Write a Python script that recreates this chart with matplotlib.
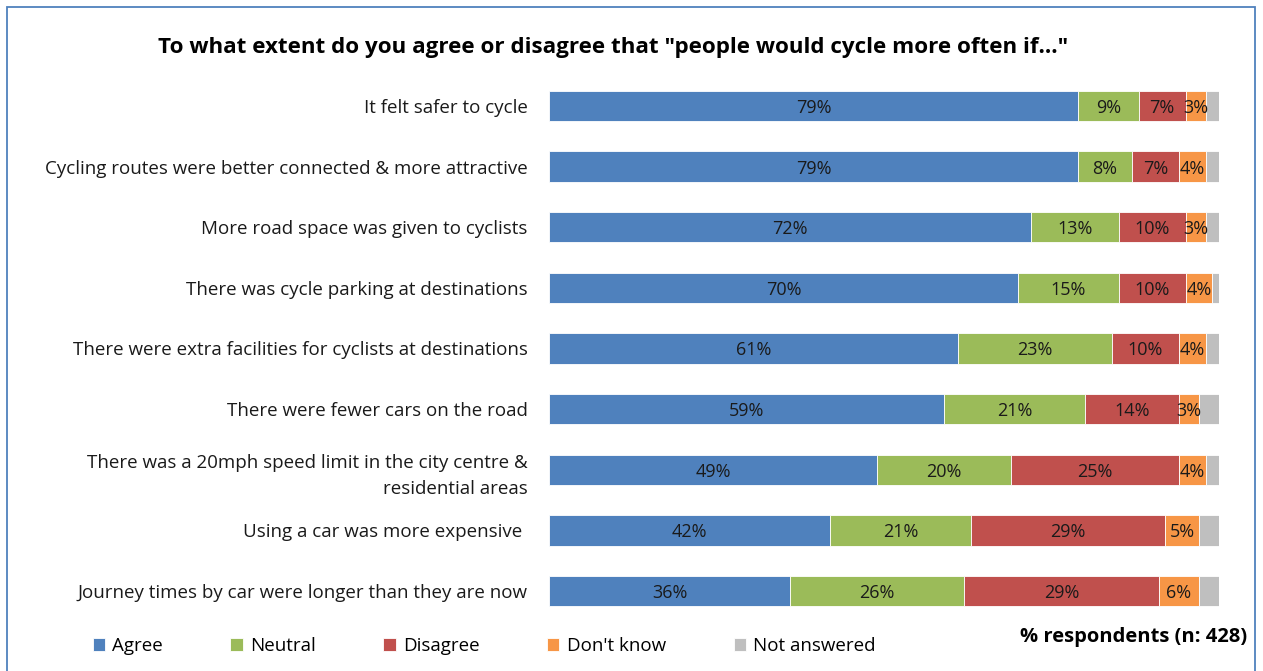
import numpy as np
import matplotlib.pyplot as plt
from matplotlib.patches import Rectangle

plt.rcParams['font.family'] = ['Open Sans', 'DejaVu Sans']

statements = [
    'It felt safer to cycle',
    'Cycling routes were better connected & more attractive',
    'More road space was given to cyclists',
    'There was cycle parking at destinations',
    'There were extra facilities for cyclists at destinations',
    'There were fewer cars on the road',
    'There was a 20mph speed limit in the city centre &\nresidential areas',
    'Using a car was more expensive ',
    'Journey times by car were longer than they are now',
]
agree = [79, 79, 72, 70, 61, 59, 49, 42, 36]
neutral = [9, 8, 13, 15, 23, 21, 20, 21, 26]
disagree = [7, 7, 10, 10, 10, 14, 25, 29, 29]
dont_know = [3, 4, 3, 4, 4, 3, 4, 5, 6]
not_answered = [2, 2, 2, 1, 2, 3, 2, 3, 3]

series = [
    ('Agree', agree, '#4F81BD', True),
    ('Neutral', neutral, '#9BBB59', True),
    ('Disagree', disagree, '#C0504D', True),
    ("Don't know", dont_know, '#F79646', True),
    ('Not answered', not_answered, '#BFBFBF', False),
]

fig = plt.figure(figsize=(12.63, 6.71), dpi=100)
ax = fig.add_axes([549 / 1263, 1 - 621.3 / 671, 670 / 1263, 545.6 / 671])

y = np.arange(len(statements))
left = np.zeros(len(statements))
for name, vals, color, labelled in series:
    vals = np.array(vals, dtype=float)
    ax.barh(y, vals, left=left, height=0.5, color=color, edgecolor='white',
            linewidth=0.6, label=name)
    if labelled:
        for yi, (l, v) in enumerate(zip(left, vals)):
            ax.text(l + v / 2, yi, f'{v:.0f}%', ha='center', va='center_baseline',
                    fontsize=13, color='#1a1a1a')
    left += vals

ax.set_xlim(0, 100)
ax.set_ylim(len(statements) - 0.5, -0.5)
ax.set_yticks(y)
ax.set_yticklabels(statements, fontsize=13.5, color='#1a1a1a', linespacing=1.6)
ax.tick_params(axis='y', length=0, pad=15.5)
ax.set_xticks([])
for s in ax.spines.values():
    s.set_visible(False)

fig.text(613 / 1263, 1 - 47 / 671, 'To what extent do you agree or disagree that "people would cycle more often if..."',
         ha='center', va='center', fontsize=16.1, fontweight='bold')

fig.legend(loc='center left', bbox_to_anchor=(85 / 1263, 1 - 646 / 671), ncol=5,
           frameon=False, fontsize=13.5, handlelength=0.65, handleheight=0.65,
           handletextpad=0.4, columnspacing=3.6, borderaxespad=0)

fig.text(1247 / 1263, 1 - 637 / 671, '% respondents (n: 428)', ha='right', va='center',
         fontsize=14.5, fontweight='bold')

# outer frame
fig.patches.append(Rectangle((7 / 1263, -0.05), 1248 / 1263, 1.05 - 7 / 671,
                             transform=fig.transFigure, fill=False,
                             edgecolor='#4F81BD', linewidth=1.3))

fig.savefig('out.png', dpi=100, facecolor='white')
